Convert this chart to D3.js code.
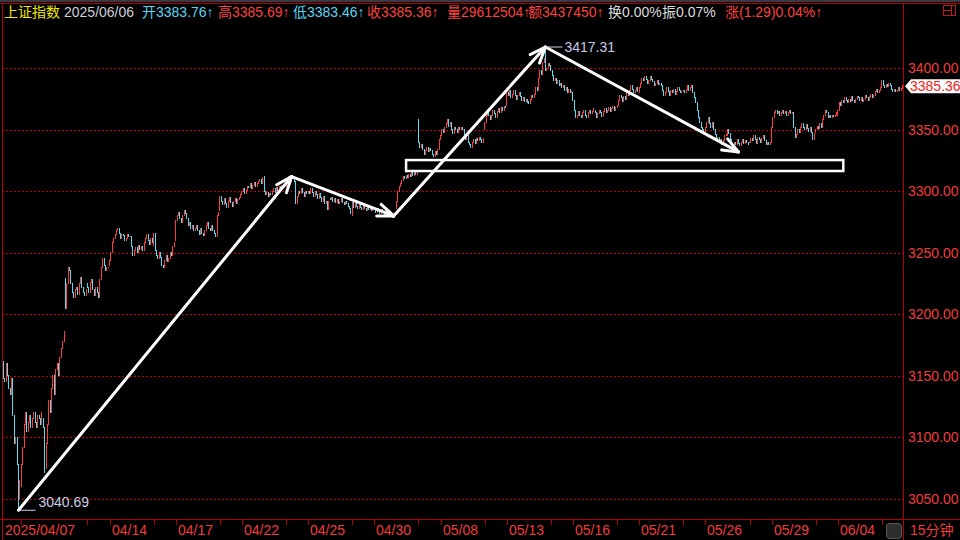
<!DOCTYPE html>
<html><head><meta charset="utf-8">
<script src="https://cdn.jsdelivr.net/npm/d3@7/dist/d3.min.js"></script>
<style>html,body{margin:0;padding:0;background:#000;overflow:hidden}svg{display:block}</style>
</head><body><svg id="c" width="960" height="540"></svg>
<script>
// ---------- DATA ----------
const days = ["2025/04/07","04/08","04/09","04/10","04/11","04/14","04/15","04/16","04/17","04/18",
  "04/21","04/22","04/23","04/24","04/25","04/28","04/29","04/30","05/06","05/07","05/08","05/09",
  "05/12","05/13","05/14","05/15","05/16","05/19","05/20","05/21","05/22","05/23","05/26","05/27",
  "05/28","05/29","05/30","06/03","06/04","06/05","06/06"];
const barsPerDay = 16;
// first-bar open of each day (gaps)
const dayOpens = [3172,3060,3115,3229,3225,3240,3263,3256,3260,3272,3284,3297,3312,3304,3298,3294,
  3280,3287,3286,3358,3342,3352,3350,3370,3373,3402,3380,3366,3368,3380,3388,3381,3346,3345,3340,
  3340,3364,3348,3362,3376,3384.10];
// 15-minute closes, one row per day
const closes = [
 3165,3155,3162,3148,3145,3160,3150,3140,3135,3148,3118,3095,3100,3078,3050,3065,
 3078,3092,3110,3120,3105,3112,3118,3108,3115,3120,3112,3108,3118,3115,3110,3120,
 3108,3075,3095,3110,3130,3120,3140,3150,3135,3155,3160,3150,3165,3172,3178,3186,
 3205,3225,3238,3236,3225,3218,3214,3220,3222,3216,3225,3230,3222,3218,3215,3220,
 3222,3218,3226,3228,3220,3215,3222,3218,3214,3228,3238,3245,3240,3236,3238,3238,
 3244,3250,3258,3262,3265,3268,3270,3266,3262,3265,3264,3260,3262,3265,3263,3263,
 3255,3248,3252,3254,3250,3256,3253,3255,3252,3258,3262,3265,3260,3257,3262,3258,
 3266,3252,3248,3245,3250,3246,3240,3238,3244,3248,3243,3245,3250,3248,3255,3258,
 3276,3280,3283,3278,3275,3280,3284,3282,3278,3272,3275,3270,3272,3268,3270,3272,
 3268,3265,3270,3266,3264,3268,3272,3275,3270,3268,3272,3268,3266,3263,3280,3283,
 3296,3292,3289,3294,3290,3287,3292,3295,3291,3288,3292,3294,3290,3293,3295,3297,
 3300,3302,3298,3301,3304,3303,3306,3302,3305,3307,3304,3306,3308,3310,3306,3311,
 3300,3297,3299,3296,3298,3297,3300,3302,3299,3303,3301,3304,3302,3305,3303,3304,
 3306,3309,3312,3308,3313,3310,3308,3290,3296,3300,3298,3302,3299,3296,3300,3298,
 3300,3298,3302,3299,3296,3300,3297,3294,3298,3295,3292,3296,3290,3292,3285,3292,
 3293,3295,3292,3294,3291,3293,3290,3292,3294,3291,3289,3292,3290,3288,3286,3282,
 3291,3287,3290,3288,3286,3289,3287,3285,3288,3286,3284,3287,3285,3286,3284,3287,
 3285,3283,3286,3284,3282,3285,3283,3281,3284,3282,3280,3283,3281,3279,3282,3280,
 3292,3300,3304,3306,3309,3312,3310,3313,3311,3314,3312,3315,3313,3316,3314,3316,
 3340,3336,3338,3334,3330,3333,3336,3332,3335,3333,3330,3328,3332,3330,3334,3342,
 3345,3350,3348,3352,3355,3358,3353,3356,3350,3347,3352,3350,3348,3352,3350,3352,
 3350,3346,3342,3345,3340,3338,3336,3340,3342,3339,3343,3341,3344,3342,3340,3343,
 3356,3362,3366,3362,3358,3362,3366,3363,3360,3365,3367,3364,3368,3366,3369,3368,
 3380,3378,3382,3376,3379,3382,3378,3375,3378,3380,3377,3374,3376,3373,3375,3372,
 3371,3375,3378,3376,3379,3384,3382,3392,3398,3395,3405,3408,3398,3400,3404,3402,
 3398,3394,3390,3392,3388,3390,3386,3388,3384,3386,3382,3384,3380,3383,3380,3381,
 3374,3366,3360,3362,3365,3362,3360,3364,3366,3362,3360,3364,3366,3363,3365,3367,
 3364,3360,3363,3366,3364,3361,3365,3367,3364,3366,3368,3365,3367,3369,3366,3368,
 3370,3374,3378,3376,3373,3377,3375,3380,3378,3382,3386,3383,3380,3382,3384,3381,
 3384,3388,3392,3390,3393,3391,3388,3390,3393,3391,3389,3386,3388,3390,3387,3388,
 3386,3382,3378,3380,3384,3381,3378,3382,3380,3383,3379,3381,3384,3382,3380,3381,
 3382,3380,3383,3386,3382,3384,3386,3380,3376,3372,3366,3360,3356,3352,3350,3348,
 3352,3356,3360,3355,3352,3356,3350,3346,3342,3344,3340,3342,3338,3341,3345,3346,
 3350,3347,3342,3338,3336,3340,3338,3342,3339,3337,3340,3342,3339,3341,3340,3338,
 3340,3343,3341,3345,3342,3339,3344,3342,3340,3343,3345,3341,3338,3340,3338,3340,
 3352,3360,3364,3366,3363,3365,3362,3364,3366,3363,3365,3362,3364,3366,3363,3364,
 3352,3344,3346,3350,3348,3352,3355,3352,3350,3354,3351,3349,3352,3348,3342,3347,
 3350,3353,3351,3355,3352,3358,3362,3366,3364,3360,3362,3360,3362,3361,3362,3364,
 3366,3372,3370,3374,3372,3376,3374,3372,3375,3373,3377,3374,3372,3375,3377,3376,
 3374,3376,3373,3375,3378,3376,3374,3377,3379,3376,3378,3381,3383,3380,3382,3384,
 3390,3386,3384,3387,3385,3388,3386,3383,3381,3383,3381,3382,3384,3382,3383.76,3385.36
];
// [bar index, high, low] wick extremes
const extremes = [[14,null,3040.69],[33,null,3071],[304,3358,null],[396,3417.31,null],[655,3385.69,3383.46]];
const yTicks = [3050,3100,3150,3200,3250,3300,3350,3400];
const labelDayIdx = [5,8,11,14,17,20,23,26,29,32,35,38];
const minorDayIdx = [1,4,7,10,13,16,19,22,25,28,31,34,37,40];
// annotation path: [bar index, price]
const trendPts = [[14,3040.69],[212,3312],[286,3280],[396,3417.31],[536,3332]];
const boxSpan = {i0:295, i1:612, p0:3325.4, p1:3316.5};
const header = [
  {t:"上证指数",x:4,c:"#f2e600"},{t:"2025/06/06",x:64,c:"#d0d0dc"},
  {t:"开3383.76↑",x:142,c:"#5ad4f0"},{t:"高3385.69↑",x:218,c:"#ff4040"},
  {t:"低3383.46↑",x:293,c:"#5ad4f0"},{t:"收3385.36↑",x:367,c:"#ff4040"},
  {t:"量29612504↑",x:447,c:"#ff4040"},{t:"额3437450↑",x:528,c:"#ff4040"},
  {t:"换0.00%",x:608,c:"#dcdcdc"},{t:"振0.07%",x:662,c:"#dcdcdc"},
  {t:"涨(1.29)0.04%↑",x:725,c:"#ff4040"}];

// ---------- BUILD ----------
const N = closes.length;
const bars = closes.map((c,i)=>{
  const d = Math.floor(i/barsPerDay), b = i%barsPerDay;
  const o = b===0 ? dayOpens[d] : closes[i-1];
  let h = Math.max(o,c), l = Math.min(o,c);
  return {i,o,c,h,l};
});
extremes.forEach(([i,h,l])=>{ if(h!=null) bars[i].h=Math.max(bars[i].h,h); if(l!=null) bars[i].l=Math.min(bars[i].l,l); });

const svg = d3.select("#c");
const FONT = "'Liberation Sans', Arial, 'Noto Sans CJK SC', sans-serif";
const RED = "#f03c3c", AX = "#b40000", UP = "#ff3c3c", DN = "#54dcf0";
const L = 2, R = 903, T = 3, B = 519;

const x = d3.scaleBand().domain(d3.range(N)).range([-1.5, 903.3]).padding(0);
const cx = i => x(i) + x.bandwidth()/2;
const y = d3.scaleLinear().domain([3050,3400]).range([498.8,68.3]);

svg.append("rect").attr("width",960).attr("height",540).attr("fill","#000");
svg.append("rect").attr("width",960).attr("height",2).attr("fill","#3a3a44");

svg.append("defs").append("clipPath").attr("id","pc").append("rect")
  .attr("x",L+1).attr("y",T+1).attr("width",R-L-1).attr("height",B-T-1);

// grid
svg.append("g").selectAll("line").data(yTicks).join("line")
  .attr("x1",L).attr("x2",R).attr("y1",d=>Math.round(y(d))+0.5).attr("y2",d=>Math.round(y(d))+0.5)
  .attr("stroke","#c00000").attr("stroke-dasharray","2,2").attr("stroke-width",1);

// right axis labels
svg.append("g").selectAll("text").data(yTicks).join("text")
  .attr("x",908).attr("y",d=>y(d)).attr("dy","0.36em")
  .attr("fill",RED).attr("font-family",FONT).attr("font-size",14)
  .text(d=>d3.format(".2f")(d));

// candles
const g = svg.append("g").attr("clip-path","url(#pc)");
g.selectAll("rect").data(bars).join("rect")
  .attr("x",d=>Math.floor(cx(d.i)))
  .attr("width",1)
  .attr("y",d=>Math.floor(y(d.h)))
  .attr("height",d=>Math.max(1, Math.ceil(y(d.l)) - Math.floor(y(d.h))))
  .attr("fill",d=>d.c>=d.o?UP:DN);

// frame lines
const fr = svg.append("g").attr("stroke",AX).attr("stroke-width",1);
fr.append("line").attr("x1",0).attr("x2",960).attr("y1",T+0.5).attr("y2",T+0.5);
fr.append("line").attr("x1",L+0.5).attr("x2",L+0.5).attr("y1",T).attr("y2",540);
fr.append("line").attr("x1",R+0.5).attr("x2",R+0.5).attr("y1",T).attr("y2",540);
fr.append("line").attr("x1",0).attr("x2",960).attr("y1",B+0.5).attr("y2",B+0.5);

// x ticks & labels
const dayX = d => Math.round(cx(d*barsPerDay));
fr.selectAll(".mt").data(minorDayIdx.concat(labelDayIdx)).join("line")
  .attr("x1",d=>dayX(d)+0.5).attr("x2",d=>dayX(d)+0.5).attr("y1",B).attr("y2",B+6);
svg.append("text").attr("x",5).attr("y",535).attr("fill",RED).attr("font-family",FONT)
  .attr("font-size",14).text(days[0]);
svg.append("g").selectAll("text").data(labelDayIdx).join("text")
  .attr("x",d=>dayX(d)+2).attr("y",535).attr("fill",RED).attr("font-family",FONT)
  .attr("font-size",14).text(d=>days[d]);

// bottom-right widgets
svg.append("rect").attr("x",886.5).attr("y",523.5).attr("width",15).attr("height",15).attr("rx",3)
  .attr("fill","#2e2e2e").attr("stroke","#5a5a5a");
svg.append("text").attr("x",910).attr("y",535).attr("fill",RED).attr("font-family",FONT)
  .attr("font-size",14).text("15分钟");

// top-right icon
const ic = svg.append("g").attr("stroke","#c01818").attr("fill","none");
ic.append("rect").attr("x",943.5).attr("y",5.5).attr("width",12).attr("height",10);
ic.append("line").attr("x1",951.5).attr("x2",951.5).attr("y1",5.5).attr("y2",15.5);
ic.append("line").attr("x1",943.5).attr("x2",951.5).attr("y1",10.5).attr("y2",10.5);

// header
const ht = svg.append("g").attr("font-family",FONT).attr("font-size",14);
header.forEach(h=>ht.append("text").attr("x",h.x).attr("y",17).attr("fill",h.c).text(h.t));

// last price marker
const lp = closes[N-1], ly = y(lp);
svg.append("path").attr("d",`M${R+2},${ly} L${R+8},${ly-7} L960,${ly-7} L960,${ly+7} L${R+8},${ly+7} Z`)
  .attr("fill","#ffffff");
svg.append("text").attr("x",910).attr("y",ly).attr("dy","0.36em").attr("fill","#f02020")
  .attr("font-family",FONT).attr("font-size",14).text(d3.format(".2f")(lp));

// annotations: trend arrows
const an = svg.append("g").attr("stroke","#fff").attr("stroke-width",3).attr("stroke-linecap","round").attr("fill","none");
for(let k=0;k<trendPts.length-1;k++){
  const [i0,p0]=trendPts[k],[i1,p1]=trendPts[k+1];
  const x0=cx(i0),y0=y(p0),x1=cx(i1),y1=y(p1);
  an.append("line").attr("x1",x0).attr("y1",y0).attr("x2",x1).attr("y2",y1);
  const a=Math.atan2(y1-y0,x1-x0), len=17, sp=0.38;
  [a+Math.PI-sp,a+Math.PI+sp].forEach(t=>{
    an.append("line").attr("x1",x1).attr("y1",y1).attr("x2",x1+len*Math.cos(t)).attr("y2",y1+len*Math.sin(t));
  });
}
svg.append("rect").attr("x",cx(boxSpan.i0)).attr("y",y(boxSpan.p0))
  .attr("width",cx(boxSpan.i1)-cx(boxSpan.i0)).attr("height",y(boxSpan.p1)-y(boxSpan.p0))
  .attr("fill","none").attr("stroke","#fff").attr("stroke-width",2.5);

// extreme labels
const lo = trendPts[0], hi = trendPts[3];
const lab = svg.append("g");
lab.append("line").attr("x1",cx(lo[0])).attr("x2",cx(lo[0])+17).attr("y1",y(lo[1])).attr("y2",y(lo[1]))
  .attr("stroke","#d0d4e8").attr("stroke-width",1);
lab.append("text").attr("x",cx(lo[0])+20).attr("y",y(lo[1])-3).attr("fill","#c8cce8")
  .attr("font-family",FONT).attr("font-size",14).text(d3.format(".2f")(lo[1]));
lab.append("line").attr("x1",cx(hi[0])).attr("x2",cx(hi[0])+17).attr("y1",y(hi[1])).attr("y2",y(hi[1]))
  .attr("stroke","#d0d4e8").attr("stroke-width",1);
lab.append("text").attr("x",cx(hi[0])+19).attr("y",y(hi[1])).attr("dy","0.36em").attr("fill","#c8cce8")
  .attr("font-family",FONT).attr("font-size",14).text(d3.format(".2f")(hi[1]));
</script></body></html>
